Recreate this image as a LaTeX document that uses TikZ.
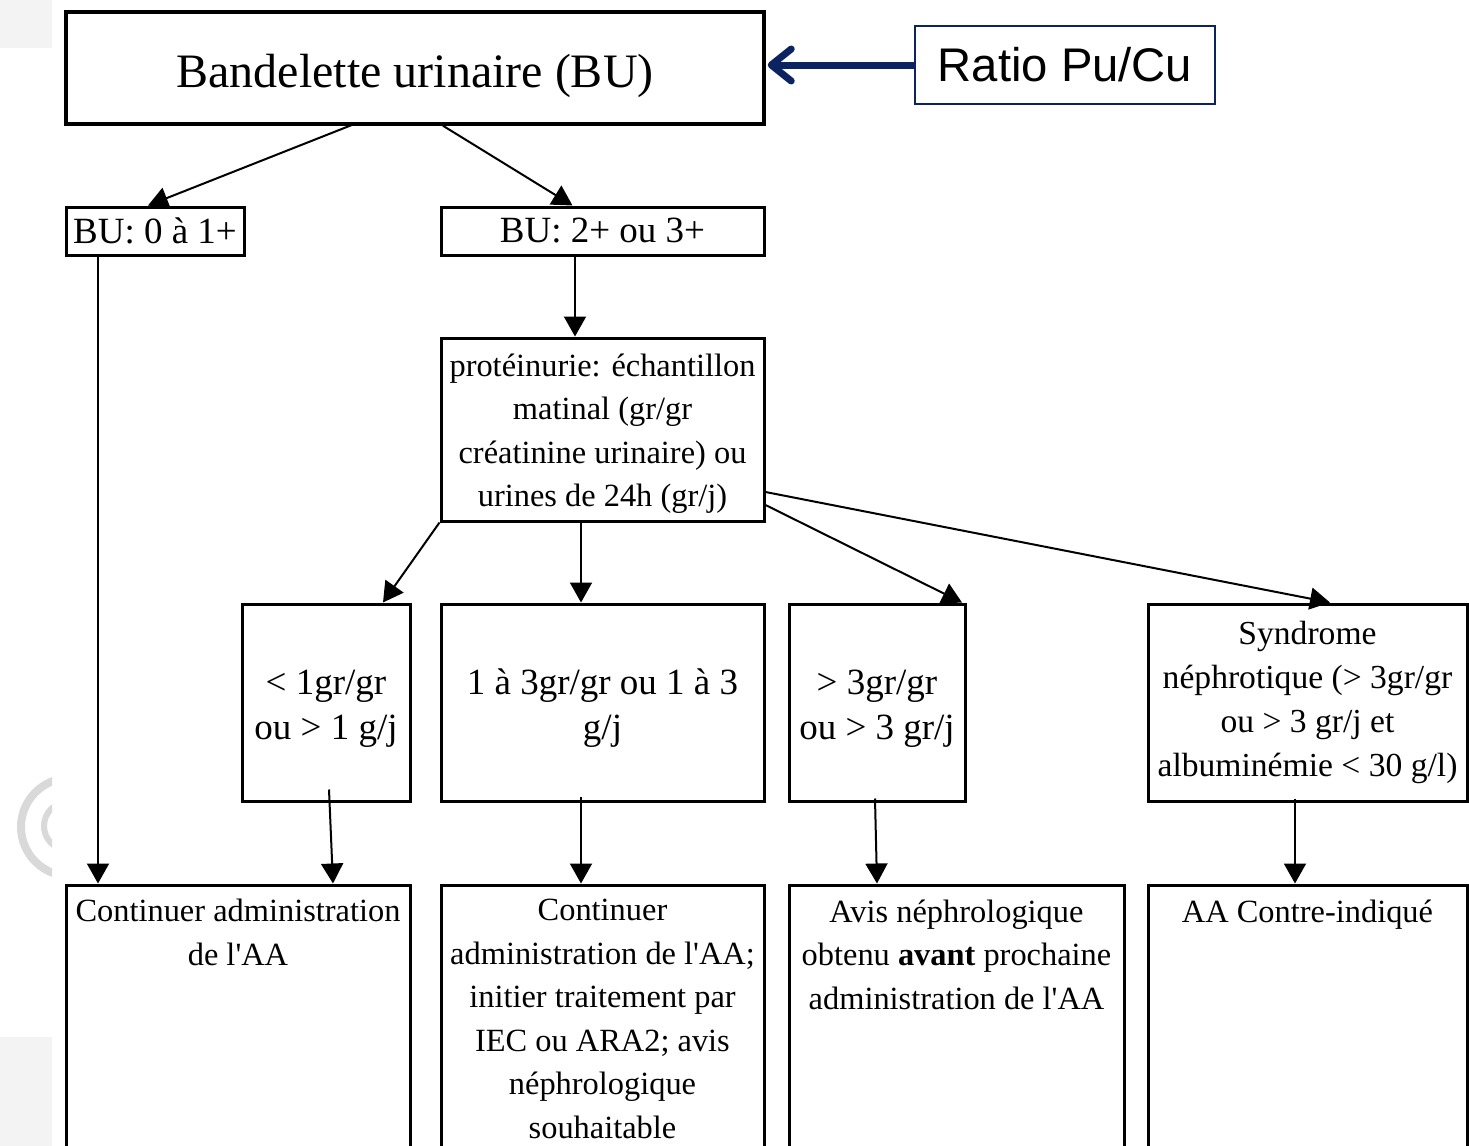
\documentclass[tikz,border=0pt]{standalone}
\usepackage{fontspec}
\setmainfont{Liberation Serif}
\newfontfamily\arialfont{Liberation Sans}
\usetikzlibrary{arrows.meta}
\definecolor{navy}{HTML}{0B2461}
\definecolor{ghost}{HTML}{F3F3F3}
\definecolor{ring}{HTML}{D9D9D9}
\newcommand{\apos}{\textquotesingle}
\begin{document}
\begin{tikzpicture}[x=0.5pt,y=-0.5pt,
  box/.style={draw, line width=1.5pt, inner sep=0pt, align=center},
  txtS/.style={font=\fontsize{16.2pt}{21.75pt}\selectfont, align=center, inner sep=0pt},
  txtM/.style={font=\fontsize{18.5pt}{22.5pt}\selectfont, align=center, inner sep=0pt},
  arr/.style={line width=1pt, -{Triangle[length=10pt,width=11pt]}},
  navyarr/.style={navy, line width=3.5pt, -{Straight Barb[length=10pt,width=16pt,round]}}]

\useasboundingbox (0,0) rectangle (1469,1146);
\fill[white] (0,0) rectangle (1469,1146);
\clip (0,0) rectangle (1469,1146);

% faint slide background along the left margin
\fill[ghost] (0,0) rectangle (52,48);
\fill[ghost] (0,1037) rectangle (52,1146);
\begin{scope}
  \clip (0,740) rectangle (52,900);
  \draw[ring, line width=4pt] (70,827) circle (49);
  \draw[ring, line width=3pt] (68,826) circle (24);
\end{scope}

% top level
\node[box, line width=1.75pt, minimum width=349pt, minimum height=56pt,
      font=\fontsize{24pt}{28pt}\selectfont, text height=24pt, text depth=5pt] (top) at (415,68)
  {Bandelette urinaire (BU)};
\node[draw=navy, line width=1pt, minimum width=150pt, minimum height=39pt, inner sep=0pt,
      font=\arialfont\fontsize{23.6pt}{28pt}\selectfont] (ratio) at (1065,65) {Ratio Pu/Cu};

% dipstick results
\node[box, txtM, minimum width=89pt, minimum height=24pt] (bu0) at (155,231) {BU: 0 à 1+};
\node[box, txtM, minimum width=161.5pt, minimum height=24pt] (bu2) at (602.5,231) {BU: 2+ ou 3+};

% proteinuria measurement
\node[box, minimum width=161.5pt, minimum height=91.5pt] (prot) at (602.5,429.5) {};
\node[txtS] (tprot) at ([yshift=-2pt]prot.center)
  {protéinurie: échantillon\\matinal (gr/gr\\créatinine urinaire) ou\\urines de 24h (gr/j)};

% proteinuria levels
\node[box, minimum width=84pt, minimum height=98.5pt] (lvA) at (326,702.5) {};
\node[box, minimum width=161.5pt, minimum height=98.5pt] (lvB) at (602.5,702.5) {};
\node[box, minimum width=88pt, minimum height=98.5pt] (lvC) at (877,702.5) {};
\node[box, minimum width=159.5pt, minimum height=98.5pt] (lvD) at (1307.5,702.5) {};

\node[txtM] (tA) at ([yshift=-3pt]lvA.center) {< 1gr/gr\\ou > 1 g/j};
\node[txtM] (tB) at ([yshift=-3pt]lvB.center) {1 à 3gr/gr ou 1 à 3\\g/j};
\node[txtM] (tC) at ([yshift=-3pt]lvC.center) {> 3gr/gr\\ou > 3 gr/j};
\node[font=\fontsize{16.8pt}{22pt}\selectfont, align=center, inner sep=0pt] (tD) at (lvD.center)
  {Syndrome\\néphrotique (> 3gr/gr\\ou > 3 gr/j et\\albuminémie < 30 g/l)};

% actions
\node[box, minimum width=172pt, minimum height=147.5pt] (b1) at (238,1032.5) {};
\node[box, minimum width=161.5pt, minimum height=147.5pt] (b2) at (602.5,1032.5) {};
\node[box, minimum width=167.5pt, minimum height=147.5pt] (b3) at (956.5,1032.5) {};
\node[box, minimum width=159.5pt, minimum height=147.5pt] (b4) at (1307.5,1032.5) {};

\node[txtS, anchor=north] (t1) at ([yshift=-7.8pt]b1.north)
  {Continuer administration\\de l\apos AA};
\node[txtS, anchor=north] (t2) at ([yshift=-7.8pt]b2.north)
  {Continuer\\administration de l\apos AA;\\initier traitement par\\IEC ou ARA2; avis\\néphrologique\\souhaitable};
\node[txtS, anchor=north] (t3) at ([yshift=-7.8pt]b3.north)
  {Avis néphrologique\\obtenu \textbf{avant} prochaine\\administration de l\apos AA};
\node[txtS, anchor=north] (t4) at ([yshift=-7.8pt]b4.north)
  {AA Contre-indiqué};

% connectors
\draw[navyarr] (ratio.west) -- ([xshift=1pt]ratio.west -| top.east);

\draw[arr] ([xshift=-30pt,yshift=1pt]top.south) -- ([xshift=-3.5pt]bu0.north);
\draw[arr] ([xshift=14pt]top.south) -- ([xshift=-15pt]bu2.north);

\draw[arr] ([xshift=-28.5pt]bu0.south) -- ([xshift=-70pt]b1.north);
\draw[arr] ([xshift=-13.75pt]bu2.south) -- ([xshift=-13.75pt]prot.north);

\draw[arr] (prot.south west) -- ([xshift=28.5pt]lvA.north);
\draw[arr] ([xshift=-10.75pt]prot.south) -- ([xshift=-10.75pt]lvB.north);
\draw[arr] ([yshift=-37.75pt]prot.east) -- ([xshift=42.5pt]lvC.north);
\draw[arr] ([yshift=-31.25pt]prot.east) -- ([xshift=11.25pt]lvD.north);

\draw[arr] ([xshift=1.5pt,yshift=6.5pt]lvA.south) -- ([xshift=47.5pt]b1.north);
\draw[arr] ([xshift=-10.75pt,yshift=3pt]lvB.south) -- ([xshift=-10.75pt]b2.north);
\draw[arr] ([xshift=-1pt,yshift=2pt]lvC.south) -- ([xshift=-39.75pt]b3.north);
\draw[arr] ([xshift=-6.25pt,yshift=2pt]lvD.south) -- ([xshift=-6.25pt]b4.north);
\end{tikzpicture}
\end{document}
